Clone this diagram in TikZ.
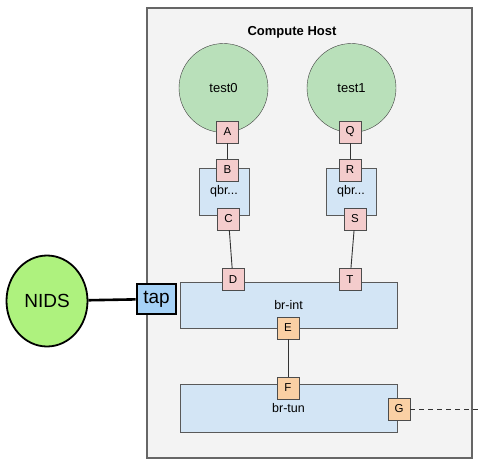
\documentclass[tikz,border=0pt]{standalone}
\usepackage{fontspec}
\setmainfont{Liberation Sans}
\usetikzlibrary{positioning, shapes.geometric}
\definecolor{hostfill}{HTML}{F3F3F3}
\definecolor{hostline}{HTML}{666666}
\definecolor{vmgreen}{HTML}{B9E0BA}
\definecolor{nidsgreen}{HTML}{AEF27E}
\definecolor{brblue}{HTML}{D3E5F5}
\definecolor{portpink}{HTML}{F4CCCC}
\definecolor{portorange}{HTML}{FAD0A4}
\definecolor{tapblue}{HTML}{A6D2F7}
\tikzset{
    x=1pt, y=-1pt, % one unit is one pixel of the drawing, y runs down
    host/.style={draw=hostline, fill=hostfill, line width=1.2pt},
    vm/.style={circle, draw=black!75, fill=vmgreen, minimum size=89pt, font=\fontsize{13}{15}\selectfont},
    bridge/.style={draw=black!65, fill=brblue, font=\fontsize{12.5}{15}\selectfont},
    port/.style={draw=black!70, fill=portpink, minimum size=22pt, inner sep=0pt, font=\fontsize{11.5}{13}\selectfont},
    tunport/.style={port, fill=portorange},
    wire/.style={draw=black!80, line width=0.9pt},
}
\begin{document}
\begin{tikzpicture}
\useasboundingbox (0,0) rectangle (480,469);
% the compute host
\draw[host] (147,8) rectangle (472,458);
\node[font=\bfseries\fontsize{13}{15}\selectfont] (title) at (292,32) {Compute Host};
% instances
\node[vm] (test0) at (223.5,88) {test0};
\node[vm] (test1) at (351.5,88) {test1};
% linux bridges
\node[bridge, minimum width=50pt, minimum height=47pt] (qbr0) at (224,191.5) {qbr...};
\node[bridge, minimum width=50pt, minimum height=47pt] (qbr1) at (351,191.5) {qbr...};
% ovs bridges
\node[bridge, minimum width=217pt, minimum height=46pt] (brint) at (288.5,305) {br-int};
\node[bridge, minimum width=217pt, minimum height=48pt] (brtun) at (288.5,408) {br-tun};
% ports
\node[port] (A) at (227.5,132) {A};
\node[port] (B) at (227.5,170) {B};
\node[port] (C) at (228.5,219) {C};
\node[port] (Q) at (350,132) {Q};
\node[port] (R) at (350,170) {R};
\node[port] (S) at (355,219) {S};
\node[port] (D) at (233,279.5) {D};
\node[port] (T) at (350,279.5) {T};
\node[tunport] (E) at (288,328) {E};
\node[tunport] (F) at (288,388) {F};
\node[tunport] (G) at (399,409) {G};
% the tap and the sensor
\node[draw=black, line width=2.6pt, fill=tapblue, minimum width=39pt, minimum height=30pt, inner sep=0pt, font=\fontsize{19}{21}\selectfont] (tap) at (156.5,299) {tap};
\node[ellipse, draw=black, line width=1.8pt, fill=nidsgreen, minimum width=81pt, minimum height=91pt, font=\fontsize{19}{21}\selectfont] (NIDS) at (47,301) {NIDS};
\coordinate (out) at (480,409);
% links
\draw[wire] (A) -- (B);
\draw[wire] (C) -- (D);
\draw[wire] (Q) -- (R);
\draw[wire] (S) -- (T);
\draw[wire] (E) -- (F);
\draw[wire, dash pattern=on 5pt off 4pt] (G) -- (out);
\draw[black, line width=2.6pt] (NIDS) -- (tap);
\end{tikzpicture}
\end{document}
